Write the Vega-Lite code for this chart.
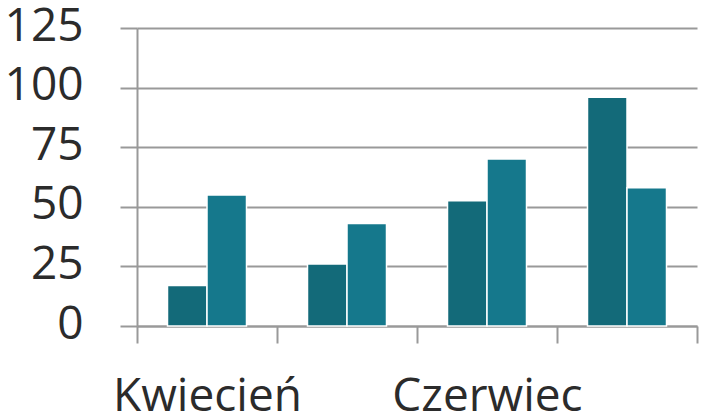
{
  "$schema": "https://vega.github.io/schema/vega-lite/v6.json",
  "width": 560,
  "height": 298,
  "autosize": {"type": "none"},
  "padding": {"left": 137, "top": 28, "right": 5, "bottom": 93},
  "background": "white",
  "config": {
    "view": {"stroke": null},
    "font": "Open Sans",
    "axis": {
      "labelFont": "Open Sans",
      "labelFontSize": 46,
      "labelColor": "#2b2b2b",
      "labelLimit": 0,
      "domainColor": "#999999",
      "domainWidth": 2,
      "tickColor": "#999999",
      "tickWidth": 2,
      "tickSize": 17,
      "gridColor": "#999999",
      "gridWidth": 2,
      "title": null
    }
  },
  "data": {
    "values": [
      {"month": "Kwiecień", "series": "Seria 1", "value": 17},
      {"month": "Kwiecień", "series": "Seria 2", "value": 55},
      {"month": "Maj", "series": "Seria 1", "value": 26},
      {"month": "Maj", "series": "Seria 2", "value": 43},
      {"month": "Czerwiec", "series": "Seria 1", "value": 52.5},
      {"month": "Czerwiec", "series": "Seria 2", "value": 70},
      {"month": "Lipiec", "series": "Seria 1", "value": 96},
      {"month": "Lipiec", "series": "Seria 2", "value": 58}
    ]
  },
  "mark": {"type": "bar", "stroke": "white", "strokeWidth": 1.5},
  "encoding": {
    "x": {
      "field": "month",
      "type": "nominal",
      "sort": ["Kwiecień", "Maj", "Czerwiec", "Lipiec"],
      "scale": {"paddingInner": 0, "paddingOuter": 0},
      "axis": {
        "labelAngle": 0,
        "tickBand": "extent",
        "labelOverlap": false,
        "labelExpr": "datum.label == 'Maj' || datum.label == 'Lipiec' ? '' : datum.label",
        "labelPadding": 31,
        "labelBaseline": "top",
        "domain": true,
        "grid": false
      }
    },
    "xOffset": {
      "field": "series",
      "type": "nominal",
      "scale": {"paddingInner": 0, "paddingOuter": 0.772}
    },
    "y": {
      "field": "value",
      "type": "quantitative",
      "scale": {"domain": [0, 125], "nice": false},
      "axis": {
        "values": [0, 25, 50, 75, 100, 125],
        "labelPadding": 37,
        "labelOffset": -2,
        "grid": true,
        "domain": true
      }
    },
    "color": {
      "field": "series",
      "type": "nominal",
      "scale": {"range": ["#136a79", "#15788c"]},
      "legend": null
    }
  }
}
